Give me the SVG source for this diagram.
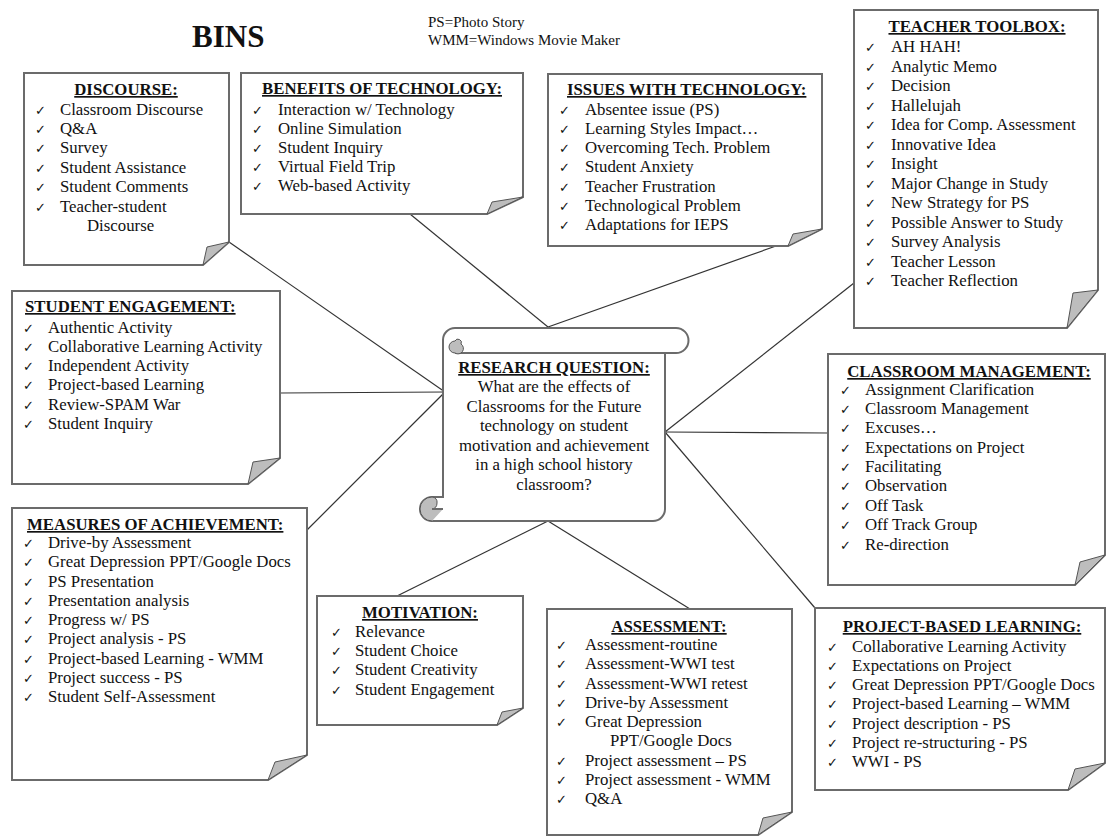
<svg xmlns="http://www.w3.org/2000/svg" width="1107" height="838" viewBox="0 0 1107 838">
<style>
.box{fill:#fff;stroke:#6b6b6b;stroke-width:2}
.fold{fill:#bdbdbd;stroke:#555;stroke-width:1}
.h{font-family:"Liberation Serif","Times New Roman",serif;font-weight:bold;font-size:16.8px;text-decoration:underline;fill:#111}
.t{font-family:"Liberation Serif","Times New Roman",serif;font-size:16.8px;fill:#111}
.ck{font-family:"DejaVu Sans",sans-serif;font-size:13px;fill:#111}
.c{stroke:#333;stroke-width:1.2;fill:none}
</style>
<rect width="1107" height="838" fill="#fff"/>
<text x="192" y="47" font-family="Liberation Serif,serif" font-weight="bold" font-size="31" fill="#111">BINS</text>
<text x="428" y="27" class="t" style="font-size:15px">PS=Photo Story</text>
<text x="428" y="45" class="t" style="font-size:15px">WMM=Windows Movie Maker</text>

<g id="connectors">
<line class="c" x1="229" y1="242" x2="445" y2="392"/>
<line class="c" x1="410" y1="214" x2="548" y2="327"/>
<line class="c" x1="548" y1="327" x2="776" y2="246"/>
<line class="c" x1="854" y1="283" x2="665" y2="432"/>
<line class="c" x1="280" y1="393" x2="445" y2="392"/>
<line class="c" x1="665" y1="432" x2="828" y2="433"/>
<line class="c" x1="307" y1="530" x2="445" y2="392"/>
<line class="c" x1="397" y1="596" x2="548" y2="521"/>
<line class="c" x1="548" y1="521" x2="690" y2="609"/>
<line class="c" x1="665" y1="432" x2="815" y2="608"/>
</g>

<g id="discourse">
<path class="box" d="M24 73H229V242L203 265H24Z"/>
<path class="fold" d="M203 265L207 247L229 242Z"/>
<text class="h" x="126" y="95" text-anchor="middle">DISCOURSE:</text>
<g class="ck"><text x="35" y="115">✓</text><text x="35" y="134">✓</text><text x="35" y="153">✓</text><text x="35" y="173">✓</text><text x="35" y="192">✓</text><text x="35" y="212">✓</text></g>
<text class="t"><tspan x="60" y="115">Classroom Discourse</tspan><tspan x="60" y="134">Q&amp;A</tspan><tspan x="60" y="153">Survey</tspan><tspan x="60" y="173">Student Assistance</tspan><tspan x="60" y="192">Student Comments</tspan><tspan x="60" y="212">Teacher-student</tspan><tspan x="87" y="231">Discourse</tspan></text>
</g>

<g id="benefits">
<path class="box" d="M241 73H523V197L487 214H241Z"/>
<path class="fold" d="M487 214L492 202L523 197Z"/>
<text class="h" x="382" y="94" text-anchor="middle">BENEFITS OF TECHNOLOGY:</text>
<g class="ck"><text x="252" y="115">✓</text><text x="252" y="134">✓</text><text x="252" y="153">✓</text><text x="252" y="172">✓</text><text x="252" y="191">✓</text></g>
<text class="t"><tspan x="278" y="115">Interaction w/ Technology</tspan><tspan x="278" y="134">Online Simulation</tspan><tspan x="278" y="153">Student Inquiry</tspan><tspan x="278" y="172">Virtual Field Trip</tspan><tspan x="278" y="191">Web-based Activity</tspan></text>
</g>

<g id="issues">
<path class="box" d="M548 74H822V229L788 246H548Z"/>
<path class="fold" d="M788 246L793 234L822 229Z"/>
<text class="h" x="567" y="95">ISSUES WITH TECHNOLOGY:</text>
<g class="ck"><text x="559" y="115">✓</text><text x="559" y="134">✓</text><text x="559" y="153">✓</text><text x="559" y="172">✓</text><text x="559" y="192">✓</text><text x="559" y="211">✓</text><text x="559" y="230">✓</text></g>
<text class="t"><tspan x="585" y="115">Absentee issue (PS)</tspan><tspan x="585" y="134">Learning Styles Impact…</tspan><tspan x="585" y="153">Overcoming Tech. Problem</tspan><tspan x="585" y="172">Student Anxiety</tspan><tspan x="585" y="192">Teacher Frustration</tspan><tspan x="585" y="211">Technological Problem</tspan><tspan x="585" y="230">Adaptations for IEPS</tspan></text>
</g>

<g id="toolbox">
<path class="box" d="M854 10H1098V290L1067 328H854Z"/>
<path class="fold" d="M1067 328L1073 293L1098 290Z"/>
<text class="h" x="977" y="32" text-anchor="middle">TEACHER TOOLBOX:</text>
<g class="ck"><text x="865" y="52">✓</text><text x="865" y="72">✓</text><text x="865" y="91">✓</text><text x="865" y="111">✓</text><text x="865" y="130">✓</text><text x="865" y="150">✓</text><text x="865" y="169">✓</text><text x="865" y="189">✓</text><text x="865" y="208">✓</text><text x="865" y="228">✓</text><text x="865" y="247">✓</text><text x="865" y="267">✓</text><text x="865" y="286">✓</text></g>
<text class="t"><tspan x="891" y="52">AH HAH!</tspan><tspan x="891" y="72">Analytic Memo</tspan><tspan x="891" y="91">Decision</tspan><tspan x="891" y="111">Hallelujah</tspan><tspan x="891" y="130">Idea for Comp. Assessment</tspan><tspan x="891" y="150">Innovative Idea</tspan><tspan x="891" y="169">Insight</tspan><tspan x="891" y="189">Major Change in Study</tspan><tspan x="891" y="208">New Strategy for PS</tspan><tspan x="891" y="228">Possible Answer to Study</tspan><tspan x="891" y="247">Survey Analysis</tspan><tspan x="891" y="267">Teacher Lesson</tspan><tspan x="891" y="286">Teacher Reflection</tspan></text>
</g>

<g id="student-engagement">
<path class="box" d="M12 291H280V458L248 484H12Z"/>
<path class="fold" d="M248 484L253 462L280 458Z"/>
<text class="h" x="25" y="312">STUDENT ENGAGEMENT:</text>
<g class="ck"><text x="23" y="333">✓</text><text x="23" y="352">✓</text><text x="23" y="371">✓</text><text x="23" y="390">✓</text><text x="23" y="410">✓</text><text x="23" y="429">✓</text></g>
<text class="t"><tspan x="48" y="333">Authentic Activity</tspan><tspan x="48" y="352">Collaborative Learning Activity</tspan><tspan x="48" y="371">Independent Activity</tspan><tspan x="48" y="390">Project-based Learning</tspan><tspan x="48" y="410">Review-SPAM War</tspan><tspan x="48" y="429">Student Inquiry</tspan></text>
</g>

<g id="classroom-management">
<path class="box" d="M828 354H1105V555L1075 585H828Z"/>
<path class="fold" d="M1075 585L1080 562L1105 555Z"/>
<text class="h" x="969" y="377" text-anchor="middle">CLASSROOM MANAGEMENT:</text>
<g class="ck"><text x="840" y="395">✓</text><text x="840" y="414">✓</text><text x="840" y="433">✓</text><text x="840" y="453">✓</text><text x="840" y="472">✓</text><text x="840" y="491">✓</text><text x="840" y="511">✓</text><text x="840" y="530">✓</text><text x="840" y="550">✓</text></g>
<text class="t"><tspan x="865" y="395">Assignment Clarification</tspan><tspan x="865" y="414">Classroom Management</tspan><tspan x="865" y="433">Excuses…</tspan><tspan x="865" y="453">Expectations on Project</tspan><tspan x="865" y="472">Facilitating</tspan><tspan x="865" y="491">Observation</tspan><tspan x="865" y="511">Off Task</tspan><tspan x="865" y="530">Off Track Group</tspan><tspan x="865" y="550">Re-direction</tspan></text>
</g>

<g id="measures">
<path class="box" d="M12 508H307V755L268 780H12Z"/>
<path class="fold" d="M268 780L275 762L307 755Z"/>
<text class="h" x="27" y="530">MEASURES OF ACHIEVEMENT:</text>
<g class="ck"><text x="23" y="548">✓</text><text x="23" y="567">✓</text><text x="23" y="587">✓</text><text x="23" y="606">✓</text><text x="23" y="625">✓</text><text x="23" y="644">✓</text><text x="23" y="664">✓</text><text x="23" y="683">✓</text><text x="23" y="702">✓</text></g>
<text class="t"><tspan x="48" y="548">Drive-by Assessment</tspan><tspan x="48" y="567">Great Depression PPT/Google Docs</tspan><tspan x="48" y="587">PS Presentation</tspan><tspan x="48" y="606">Presentation analysis</tspan><tspan x="48" y="625">Progress w/ PS</tspan><tspan x="48" y="644">Project analysis - PS</tspan><tspan x="48" y="664">Project-based Learning - WMM</tspan><tspan x="48" y="683">Project success - PS</tspan><tspan x="48" y="702">Student Self-Assessment</tspan></text>
</g>

<g id="motivation">
<path class="box" d="M317 596H523V708L497 725H317Z"/>
<path class="fold" d="M497 725L502 712L523 708Z"/>
<text class="h" x="420" y="618" text-anchor="middle">MOTIVATION:</text>
<g class="ck"><text x="331" y="637">✓</text><text x="331" y="656">✓</text><text x="331" y="675">✓</text><text x="331" y="695">✓</text></g>
<text class="t"><tspan x="355" y="637">Relevance</tspan><tspan x="355" y="656">Student Choice</tspan><tspan x="355" y="675">Student Creativity</tspan><tspan x="355" y="695">Student Engagement</tspan></text>
</g>

<g id="assessment">
<path class="box" d="M547 609H792V812L758 835H547Z"/>
<path class="fold" d="M758 835L763 818L792 812Z"/>
<text class="h" x="669" y="632" text-anchor="middle">ASSESSMENT:</text>
<g class="ck"><text x="556" y="650">✓</text><text x="556" y="669">✓</text><text x="556" y="689">✓</text><text x="556" y="708">✓</text><text x="556" y="727">✓</text><text x="556" y="766">✓</text><text x="556" y="785">✓</text><text x="556" y="804">✓</text></g>
<text class="t"><tspan x="585" y="650">Assessment-routine</tspan><tspan x="585" y="669">Assessment-WWI test</tspan><tspan x="585" y="689">Assessment-WWI retest</tspan><tspan x="585" y="708">Drive-by Assessment</tspan><tspan x="585" y="727">Great Depression</tspan><tspan x="610" y="746">PPT/Google Docs</tspan><tspan x="585" y="766">Project assessment – PS</tspan><tspan x="585" y="785">Project assessment - WMM</tspan><tspan x="585" y="804">Q&amp;A</tspan></text>
</g>

<g id="project-based-learning">
<path class="box" d="M815 608H1105V763L1068 790H815Z"/>
<path class="fold" d="M1068 790L1075 769L1105 763Z"/>
<text class="h" x="962" y="632" text-anchor="middle">PROJECT-BASED LEARNING:</text>
<g class="ck"><text x="827" y="652">✓</text><text x="827" y="671">✓</text><text x="827" y="690">✓</text><text x="827" y="709">✓</text><text x="827" y="729">✓</text><text x="827" y="748">✓</text><text x="827" y="767">✓</text></g>
<text class="t"><tspan x="852" y="652">Collaborative Learning Activity</tspan><tspan x="852" y="671">Expectations on Project</tspan><tspan x="852" y="690">Great Depression PPT/Google Docs</tspan><tspan x="852" y="709">Project-based Learning – WMM</tspan><tspan x="852" y="729">Project description - PS</tspan><tspan x="852" y="748">Project re-structuring - PS</tspan><tspan x="852" y="767">WWI - PS</tspan></text>
</g>

<g id="research-question">
<path class="box" d="M455 328H676A12.5 12.5 0 0 1 676 353H665V509A12 12 0 0 1 653 521H432A12 12 0 0 1 432 497H443V340A12 12 0 0 1 455 328Z"/>
<path fill="none" stroke="#6b6b6b" stroke-width="2" d="M455 353H665"/>
<path class="fold" d="M455 353A6 6 0 0 1 455 341A3 3 0 0 1 461 344A4.5 4.5 0 0 1 455 353Z"/>
<path class="fold" d="M432 521A12 12 0 0 1 432 497A5 5 0 0 1 437 503A6 6 0 0 1 432 509H443V509"/>
<path fill="none" stroke="#6b6b6b" stroke-width="2" d="M432 509H443"/>
<text class="h" x="554" y="373" text-anchor="middle">RESEARCH QUESTION:</text>
<text class="t" text-anchor="middle"><tspan x="554" y="392">What are the effects of</tspan><tspan x="554" y="412">Classrooms for the Future</tspan><tspan x="554" y="431">technology on student</tspan><tspan x="554" y="451">motivation and achievement</tspan><tspan x="554" y="470">in a high school history</tspan><tspan x="554" y="490">classroom?</tspan></text>
</g>
</svg>
